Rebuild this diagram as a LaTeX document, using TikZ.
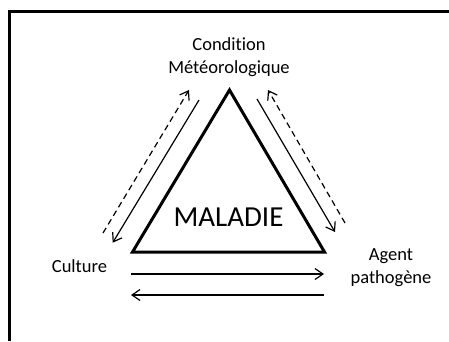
\documentclass[tikz,border=0pt]{standalone}
\usepackage{fontspec}
\setmainfont{Carlito}[Ligatures=NoCommon]
\usetikzlibrary{arrows.meta}
\begin{document}
\begin{tikzpicture}[x=1pt, y=-1pt,
    fleche/.style={line width=1.2pt, -{Straight Barb[length=8pt, width=11pt]}},
    pointille/.style={fleche, dash pattern=on 6pt off 4pt},
    etiquette/.style={font=\fontsize{18.5}{22.6}\selectfont, align=center, anchor=base, inner sep=0pt}]
            \useasboundingbox (0,0) rectangle (449,341);
            \draw[line width=3pt] (9.5,341) -- (9.5,11.5) -- (449,11.5);
            % triangle
            \coordinate (haut) at (229.5,90);
            \coordinate (gauche) at (132.5,252);
            \coordinate (droite) at (324.5,252);
            \draw[line width=3pt, line join=miter] (haut) -- (gauche) -- (droite) -- cycle;
            \node[etiquette, font=\fontsize{29}{34}\selectfont] (maladie) at (228.5,226.7) {MALADIE};
            \node[etiquette] (meteo) at (229,73.3) {Condition\\Météorologique};
            \node[etiquette] (culture) at (79.5,272.7) {Culture};
            \node[etiquette] (agent) at (391,283.3) {Agent\\pathogène};
            % fleches
            \coordinate (g1) at (199,100);   \coordinate (g2) at (112.7,242.7);
            \coordinate (g3) at (103,233);   \coordinate (g4) at (189,90);
            \coordinate (d1) at (257,99);    \coordinate (d2) at (335,232);
            \coordinate (d3) at (345,223);   \coordinate (d4) at (268,90);
            \coordinate (b1) at (131,274);   \coordinate (b2) at (324,274);
            \coordinate (b3) at (324,295);   \coordinate (b4) at (131,295);
            \draw[fleche] (g1) -- (g2);
            \draw[pointille] (g3) -- (g4);
            \draw[fleche] (d1) -- (d2);
            \draw[pointille] (d3) -- (d4);
            \draw[fleche] (b1) -- (b2);
            \draw[fleche] (b3) -- (b4);
\end{tikzpicture}
\end{document}
